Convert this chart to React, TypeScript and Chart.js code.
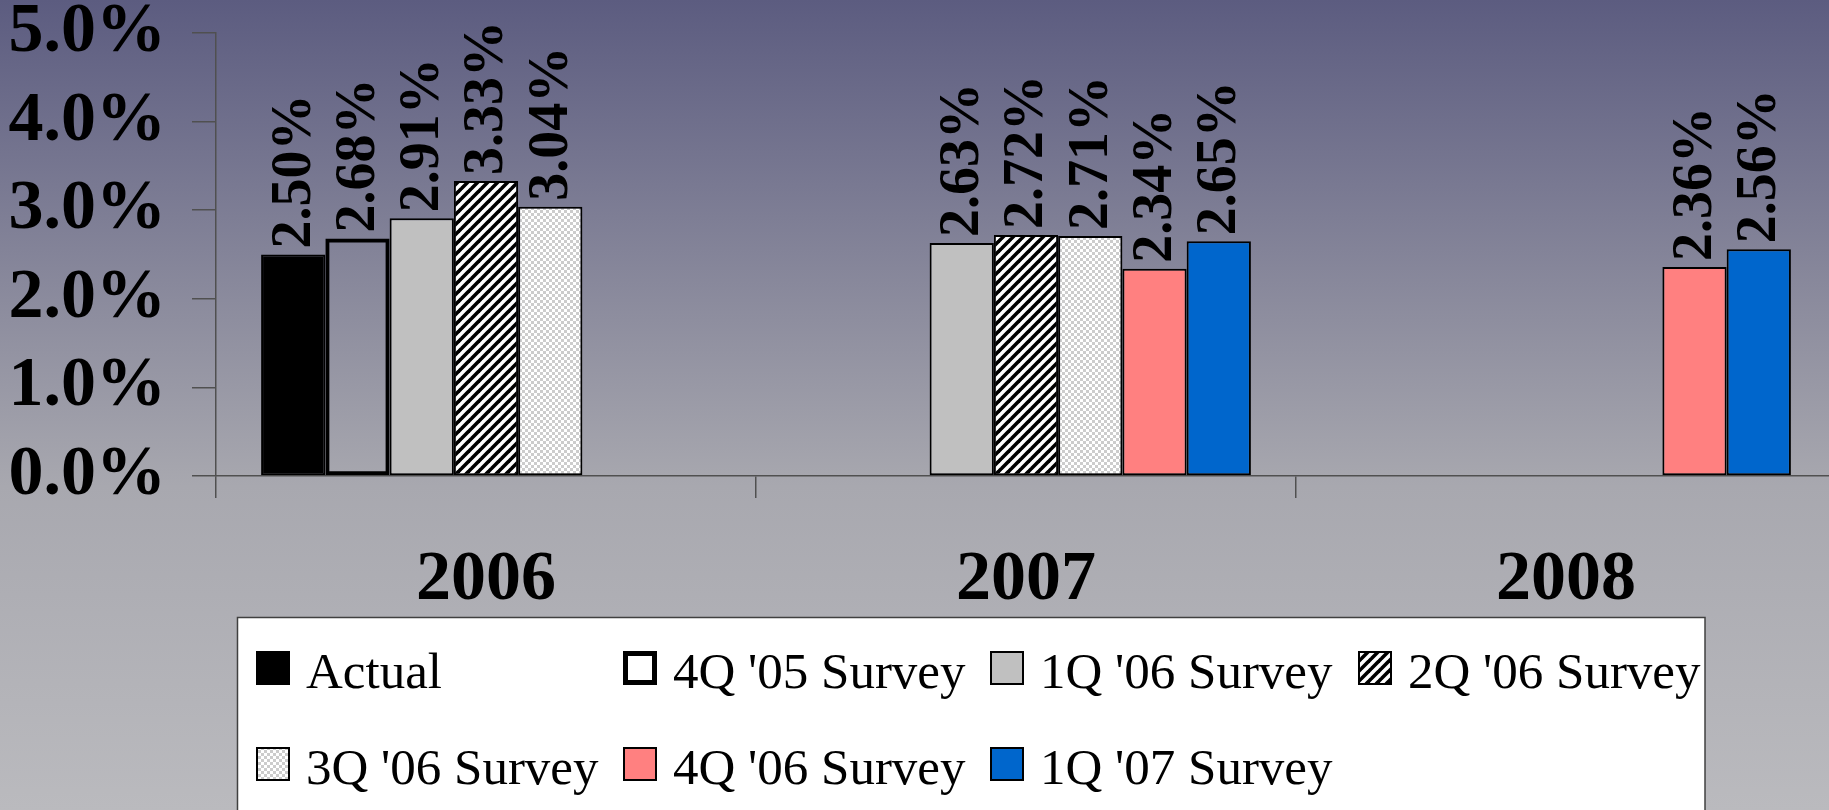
import React, { useEffect, useRef } from "react";
import { Chart, registerables } from "chart.js";

Chart.register(...registerables);

const categories = ["2006", "2007", "2008"];
const seriesNames = [
  "Actual",
  "4Q '05 Survey",
  "1Q '06 Survey",
  "2Q '06 Survey",
  "3Q '06 Survey",
  "4Q '06 Survey",
  "1Q '07 Survey",
];
const actual = [2.5, null, null];
const q4_05 = [2.68, null, null];
const q1_06 = [2.91, 2.63, null];
const q2_06 = [3.33, 2.72, null];
const q3_06 = [3.04, 2.71, null];
const q4_06 = [null, 2.34, 2.36];
const q1_07 = [null, 2.65, 2.56];
const yTicks = [0, 1, 2, 3, 4, 5];

const W = 1829;
const CW = 1836;
const H = 810;
const SERIF = "'Liberation Serif', 'Times New Roman', Times, serif";

function makeStripes(): CanvasPattern | string {
  const s = 10;
  const c = document.createElement("canvas");
  c.width = s;
  c.height = s;
  const g = c.getContext("2d");
  if (!g) return "#888";
  g.fillStyle = "#ffffff";
  g.fillRect(0, 0, s, s);
  g.strokeStyle = "#000000";
  g.lineWidth = 3.6;
  for (const k of [-s, 0, s]) {
    g.beginPath();
    g.moveTo(k - 1, s + 1);
    g.lineTo(k + s + 1, -1);
    g.stroke();
  }
  return g.createPattern(c, "repeat") || "#888";
}

function makeChecker(): CanvasPattern | string {
  const c = document.createElement("canvas");
  const s = 3;
  c.width = s * 2;
  c.height = s * 2;
  const g = c.getContext("2d");
  if (!g) return "#ddd";
  g.fillStyle = "#ffffff";
  g.fillRect(0, 0, s * 2, s * 2);
  g.fillStyle = "#cccccc";
  g.fillRect(0, 0, s, s);
  g.fillRect(s, s, s, s);
  return g.createPattern(c, "repeat") || "#ddd";
}

export default function App() {
  const ref = useRef<HTMLCanvasElement | null>(null);

  useEffect(() => {
    const canvas = ref.current;
    if (!canvas) return;
    const stripes = makeStripes();
    const checker = makeChecker();

    const seriesData = [actual, q4_05, q1_06, q2_06, q3_06, q4_06, q1_07];
    const fills: any[] = [
      "#000000",
      "rgba(0,0,0,0)",
      "#c0c0c0",
      stripes,
      checker,
      "#ff8080",
      "#0066cc",
    ];
    const legendFills: any[] = [
      "#000000",
      "#ffffff",
      "#c0c0c0",
      stripes,
      checker,
      "#ff8080",
      "#0066cc",
    ];
    const borderWidths = [2, 4, 2, 2, 2, 2, 2];

    const bgPlugin = {
      id: "bg",
      beforeDraw(chart: any) {
        const ctx = chart.ctx;
        const grd = ctx.createLinearGradient(0, 0, 0, H);
        grd.addColorStop(0, "rgb(92,92,128)");
        grd.addColorStop(0.6, "rgb(168,168,175)");
        grd.addColorStop(1, "rgb(186,186,190)");
        ctx.save();
        ctx.fillStyle = grd;
        ctx.fillRect(0, 0, CW, H);
        ctx.restore();
      },
    };

    const labelPlugin = {
      id: "vlabels",
      afterDatasetsDraw(chart: any) {
        const ctx = chart.ctx;
        ctx.save();
        ctx.fillStyle = "#000";
        ctx.font = `bold 56px ${SERIF}`;
        ctx.textAlign = "left";
        ctx.textBaseline = "middle";
        chart.data.datasets.forEach((ds: any, di: number) => {
          const meta = chart.getDatasetMeta(di);
          meta.data.forEach((el: any, i: number) => {
            const v = ds.data[i];
            if (v === null || v === undefined) return;
            ctx.save();
            ctx.translate(el.x + 2, el.y - 6);
            ctx.rotate(-Math.PI / 2);
            ctx.fillText(v.toFixed(2) + "%", 0, 0);
            ctx.restore();
          });
        });
        ctx.restore();
      },
    };

    const legendPlugin = {
      id: "customLegend",
      afterDraw(chart: any) {
        const ctx = chart.ctx;
        ctx.save();
        ctx.fillStyle = "#ffffff";
        ctx.fillRect(237.5, 617.5, 1705 - 237.5, 220);
        ctx.strokeStyle = "#404040";
        ctx.lineWidth = 1.5;
        ctx.strokeRect(237.5, 617.5, 1705 - 237.5, 220);
        const cols = [256, 623, 990, 1358];
        const rows = [668, 764];
        ctx.font = `51px ${SERIF}`;
        ctx.textAlign = "left";
        ctx.textBaseline = "alphabetic";
        chart.data.datasets.forEach((ds: any, di: number) => {
          const col = di % 4;
          const row = Math.floor(di / 4);
          const x = cols[col];
          const cy = rows[row];
          const size = 34;
          ctx.fillStyle = legendFills[di];
          ctx.fillRect(x, cy - size / 2, size, size);
          const bw = di === 1 ? 5 : 2;
          ctx.strokeStyle = "#000";
          ctx.lineWidth = bw;
          ctx.strokeRect(x + bw / 2, cy - size / 2 + bw / 2, size - bw, size - bw);
          ctx.fillStyle = "#000";
          ctx.fillText(ds.label, x + 50, cy + 20);
        });
        ctx.restore();
      },
    };

    const chart = new Chart(canvas, {
      type: "bar",
      data: {
        labels: categories,
        datasets: seriesNames.map((name, i) => ({
          label: name,
          data: seriesData[i] as any,
          backgroundColor: fills[i],
          borderColor: "#000000",
          borderWidth: borderWidths[i],
          borderSkipped: false,
          categoryPercentage: 0.833,
          barPercentage: 1.0,
        })),
      },
      options: {
        animation: false,
        responsive: false,
        devicePixelRatio: 1,
        layout: { padding: { top: 33, left: 0, right: 0, bottom: 0 } },
        plugins: {
          legend: { display: false },
          tooltip: { enabled: false },
          title: { display: false },
        },
        scales: {
          x: {
            offset: true,
            grid: {
              offset: true,
              drawOnChartArea: false,
              drawTicks: true,
              tickLength: 22,
              color: "#505050",
              lineWidth: 1.5,
            },
            border: { display: true, color: "#505050", width: 1.5 },
            ticks: {
              color: "#000",
              font: { family: SERIF, size: 70, weight: "bold", lineHeight: 1 },
              padding: 48,
              maxRotation: 0,
            },
            afterFit(scale: any) {
              scale.height = H - 476;
              scale.paddingLeft = 0;
              scale.paddingRight = 0;
            },
          },
          y: {
            min: 0,
            max: 5,
            afterBuildTicks(scale: any) {
              scale.ticks = yTicks.map((v) => ({ value: v }));
            },
            grid: {
              drawOnChartArea: false,
              drawTicks: true,
              tickLength: 24,
              color: "#505050",
              lineWidth: 1.5,
            },
            border: { display: true, color: "#505050", width: 1.5 },
            ticks: {
              color: "#000",
              font: { family: SERIF, size: 70, weight: "bold", lineHeight: 1 },
              padding: 26,
              callback: (v: any) => Number(v).toFixed(1) + "%",
            },
            afterFit(scale: any) {
              scale.width = 216;
              scale.paddingTop = 0;
              scale.paddingBottom = 0;
            },
          },
        },
      },
      plugins: [bgPlugin, labelPlugin, legendPlugin],
    });

    return () => chart.destroy();
  }, []);

  return (
    <div style={{ position: "fixed", left: 0, top: 0, width: W, height: H, overflow: "hidden" }}>
      <canvas ref={ref} width={CW} height={H} style={{ display: "block", width: CW, height: H }} />
    </div>
  );
}
